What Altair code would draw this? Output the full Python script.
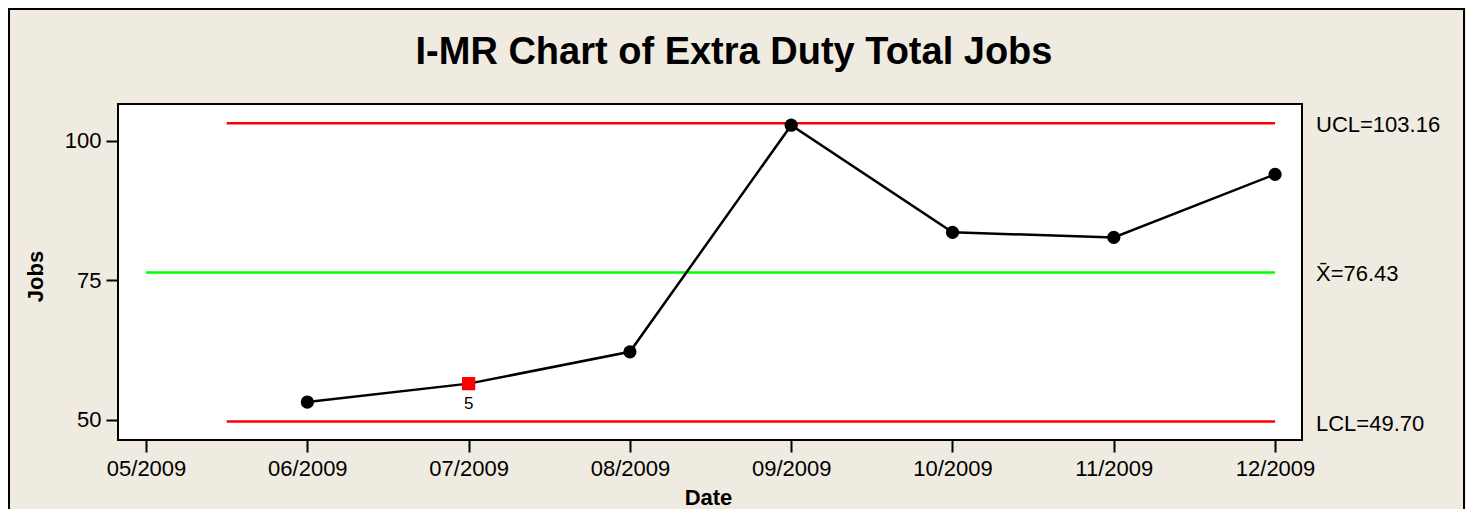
import json
import altair as alt
import pandas as pd

# ---- data ----
dates = ["06/2009", "07/2009", "08/2009", "09/2009", "10/2009", "11/2009", "12/2009"]
jobs = [53.2, 56.5, 62.2, 102.8, 83.6, 82.7, 94.0]
flags = ["", "5", "", "", "", "", ""]
tick_labels = ["05/2009", "06/2009", "07/2009", "08/2009", "09/2009", "10/2009", "11/2009", "12/2009"]
y_ticks = [50, 75, 100]
chart_title = ["I-MR Chart of Extra Duty Total Jobs"]

ucl = 103.16
center = 76.43
lcl = 49.70
limit_names = ["UCL", "Mean", "LCL"]
limit_values = [ucl, center, lcl]
limit_labels = ["UCL=103.16", "X\u0304=76.43", "LCL=49.70"]
limit_start = [5.5, 5.0, 5.5]
limit_end = [12.0, 12.0, 12.0]
limit_colors = ["#FF0000", "#00FF00", "#FF0000"]

month_num = [int(d.split("/")[0]) for d in dates]
df = pd.DataFrame({"month": month_num, "date": dates, "jobs": jobs, "flag": flags})
lim = pd.DataFrame({"name": limit_names, "value": limit_values, "label": limit_labels,
                    "x": limit_start, "x2": limit_end, "color": limit_colors})

W, H = 1184, 336
FONT = "Liberation Sans"

xscale = alt.Scale(domain=[4.826, 12.167], nice=False, zero=False)
yscale = alt.Scale(domain=[46.4, 106.6], nice=False, zero=False)

label_expr = json.dumps(tick_labels) + "[datum.value - 5]"

x_axis = alt.Axis(values=list(range(5, 13)), labelExpr=label_expr, title="Date",
                  titleX=590, titleY=64, titleAlign="center", titleBaseline="alphabetic",
                  titleFont=FONT, titleFontSize=22, titleFontWeight="bold", titleColor="black",
                  labelPadding=6)
y_axis = alt.Axis(values=y_ticks, title="Jobs", titleX=-83, titleY=172, titleAngle=-90,
                  titleAlign="center", titleBaseline="middle",
                  titleFont=FONT, titleFontSize=22, titleFontWeight="bold", titleColor="black",
                  labelPadding=5)

base = alt.Chart(df)

limits = alt.Chart(lim).mark_rule(strokeWidth=2.5).encode(
    x=alt.X("x:Q", scale=xscale, axis=x_axis),
    x2="x2:Q",
    y=alt.Y("value:Q", scale=yscale, axis=y_axis),
    color=alt.Color("color:N", scale=None),
)

limit_text = alt.Chart(lim).mark_text(align="left", baseline="middle", font=FONT,
                                      fontSize=22, color="black", dy=2).encode(
    x=alt.value(1198),
    y=alt.Y("value:Q", scale=yscale),
    text="label:N",
)

line = base.mark_line(color="black", strokeWidth=2.5).encode(
    x=alt.X("month:Q", scale=xscale),
    y=alt.Y("jobs:Q", scale=yscale),
)

dots = base.transform_filter("datum.flag == ''").mark_point(
    shape="circle", filled=True, color="black", size=175, opacity=1).encode(
    x=alt.X("month:Q", scale=xscale),
    y=alt.Y("jobs:Q", scale=yscale),
)

flagged = base.transform_filter("datum.flag != ''").mark_point(
    shape="square", filled=True, color="#FF0000", size=175, opacity=1).encode(
    x=alt.X("month:Q", scale=xscale),
    y=alt.Y("jobs:Q", scale=yscale),
)

flag_text = base.transform_filter("datum.flag != ''").mark_text(
    font=FONT, fontSize=17, color="black", dy=20, baseline="middle").encode(
    x=alt.X("month:Q", scale=xscale),
    y=alt.Y("jobs:Q", scale=yscale),
    text="flag:N",
)

title_text = alt.Chart(pd.DataFrame({"t": chart_title})).mark_text(
    font=FONT, fontSize=38, fontWeight="bold", color="black",
    align="center", baseline="alphabetic").encode(
    x=alt.value(616), y=alt.value(-40), text="t:N",
)

frame = alt.Chart(pd.DataFrame({"a": [0]})).mark_rect(
    fillOpacity=0, stroke="black", strokeWidth=2).encode(
    x=alt.value(-109), x2=alt.value(1346), y=alt.value(-95), y2=alt.value(430),
)

chart = alt.layer(frame, title_text, limits, line, dots, flagged, flag_text, limit_text).properties(
    width=W, height=H,
    autosize=alt.AutoSizeParams(type="none"),
    padding={"left": 110, "top": 96, "right": 164, "bottom": 69},
    background="#EFEBE1",
).configure_view(
    fill="white", stroke="black", strokeWidth=2
).configure_axis(
    domain=False, grid=False, ticks=True, tickColor="black", tickWidth=2, tickSize=12,
    labelFont=FONT, labelFontSize=22, labelColor="black",
)

chart.save("out.html", embed_options={"renderer": "svg", "actions": False})
